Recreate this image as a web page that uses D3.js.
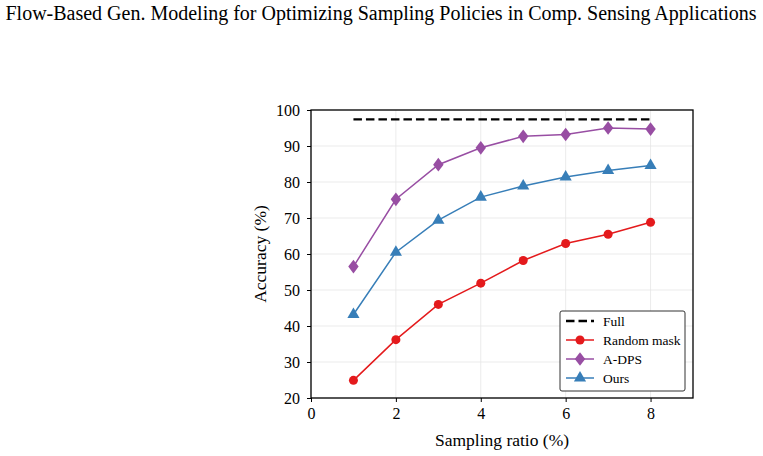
<!DOCTYPE html>
<html>
<head>
<meta charset="utf-8">
<script src="https://cdn.jsdelivr.net/npm/d3@7"></script>
<style>
body { margin: 0; background: #fff; }
text { font-family: "Liberation Serif", "Times New Roman", serif; }
</style>
</head>
<body>
<svg id="chart" width="763" height="456"></svg>
<script>
var ratios = [1, 2, 3, 4, 5, 6, 7, 8];
var fullAcc = 97.4;
var randomMask = [24.9, 36.2, 46.0, 51.9, 58.2, 62.9, 65.5, 68.8];
var adps = [56.5, 75.2, 84.8, 89.5, 92.7, 93.2, 95.0, 94.7];
var ours = [43.2, 60.5, 69.4, 75.8, 78.9, 81.4, 83.2, 84.6];
var xTicks = [0, 2, 4, 6, 8];
var yTicks = [20, 30, 40, 50, 60, 70, 80, 90, 100];

var svg = d3.select("#chart"),
    pLeft = 311, pRight = 693, pTop = 110, pBottom = 398;

var x = d3.scaleLinear().domain([0, 9]).range([pLeft, pRight]),
    y = d3.scaleLinear().domain([20, 100]).range([pBottom, pTop]);

svg.append("text")
    .attr("x", 381).attr("y", 20)
    .attr("text-anchor", "middle")
    .attr("font-size", "20px")
    .text("Flow-Based Gen. Modeling for Optimizing Sampling Policies in Comp. Sensing Applications");

// grid
svg.append("g").selectAll("line").data(xTicks).enter().append("line")
    .attr("x1", function(d) { return x(d); }).attr("x2", function(d) { return x(d); })
    .attr("y1", pTop).attr("y2", pBottom)
    .attr("stroke", "#e6e6e6").attr("stroke-width", 0.8);
svg.append("g").selectAll("line").data(yTicks).enter().append("line")
    .attr("x1", pLeft).attr("x2", pRight)
    .attr("y1", function(d) { return y(d); }).attr("y2", function(d) { return y(d); })
    .attr("stroke", "#e6e6e6").attr("stroke-width", 0.8);

var xAxis = svg.append("g")
    .attr("transform", "translate(0," + pBottom + ")")
    .call(d3.axisBottom(x).tickValues(xTicks).tickSize(4).tickPadding(6));
var yAxis = svg.append("g")
    .attr("transform", "translate(" + pLeft + ",0)")
    .call(d3.axisLeft(y).tickValues(yTicks).tickSize(4).tickPadding(7));
[xAxis, yAxis].forEach(function(a) {
    a.select(".domain").remove();
    a.selectAll("text").attr("font-size", "16px").attr("fill", "#000")
        .style("font-family", "'Liberation Serif', serif");
    a.selectAll("line").attr("stroke", "#000").attr("stroke-width", 1);
});

svg.append("rect")
    .attr("x", pLeft).attr("y", pTop)
    .attr("width", pRight - pLeft).attr("height", pBottom - pTop)
    .attr("fill", "none").attr("stroke", "#000").attr("stroke-width", 1.3);

svg.append("text")
    .attr("x", (pLeft + pRight) / 2).attr("y", 446)
    .attr("text-anchor", "middle").attr("font-size", "17.5px")
    .text("Sampling ratio (%)");
svg.append("text")
    .attr("transform", "translate(266," + (pTop + pBottom) / 2 + ") rotate(-90)")
    .attr("text-anchor", "middle").attr("font-size", "17.5px")
    .text("Accuracy (%)");

// full reference
svg.append("line")
    .attr("x1", x(1)).attr("x2", x(8))
    .attr("y1", y(fullAcc)).attr("y2", y(fullAcc))
    .attr("stroke", "#000").attr("stroke-width", 2.3)
    .attr("stroke-dasharray", "8.5,4");

var series = [
    {name: "Random mask", vals: randomMask, color: "#e41a1c", sym: d3.symbolCircle, size: 64},
    {name: "A-DPS", vals: adps, color: "#984ea3", sym: d3.symbolDiamond, size: 60},
    {name: "Ours", vals: ours, color: "#377eb8", sym: d3.symbolTriangle, size: 64}
];

var line = d3.line()
    .x(function(d, i) { return x(ratios[i]); })
    .y(function(d) { return y(d); });

series.forEach(function(s) {
    svg.append("path").datum(s.vals)
        .attr("d", line).attr("fill", "none")
        .attr("stroke", s.color).attr("stroke-width", 1.5);
    svg.append("g").selectAll("path").data(s.vals).enter().append("path")
        .attr("d", d3.symbol().type(s.sym).size(s.size))
        .attr("transform", function(d, i) {
            return "translate(" + x(ratios[i]) + "," + y(d) + ")" + (s.sym === d3.symbolDiamond ? " scale(1.25,0.95)" : "");
        })
        .attr("fill", s.color);
});

// legend
var lg = svg.append("g").attr("transform", "translate(560,311)");
lg.append("rect").attr("width", 125).attr("height", 80)
    .attr("rx", 2).attr("fill", "#fff").attr("stroke", "#333").attr("stroke-width", 1);
var items = [{name: "Full", color: "#000", dash: true}].concat(series);
items.forEach(function(s, i) {
    var yy = 10 + i * 19;
    var row = lg.append("g").attr("transform", "translate(0," + yy + ")");
    row.append("line").attr("x1", 6).attr("x2", 34).attr("y1", 0).attr("y2", 0)
        .attr("stroke", s.color).attr("stroke-width", s.dash ? 2.3 : 1.5)
        .attr("stroke-dasharray", s.dash ? "8.5,4" : null);
    if (!s.dash) {
        row.append("path").attr("d", d3.symbol().type(s.sym).size(s.size)())
            .attr("transform", "translate(20,0)" + (s.sym === d3.symbolDiamond ? " scale(1.25,0.95)" : "")).attr("fill", s.color);
    }
    row.append("text").attr("x", 43).attr("y", 4.5)
        .attr("font-size", "13.5px").text(s.name);
});
</script>
</body>
</html>
